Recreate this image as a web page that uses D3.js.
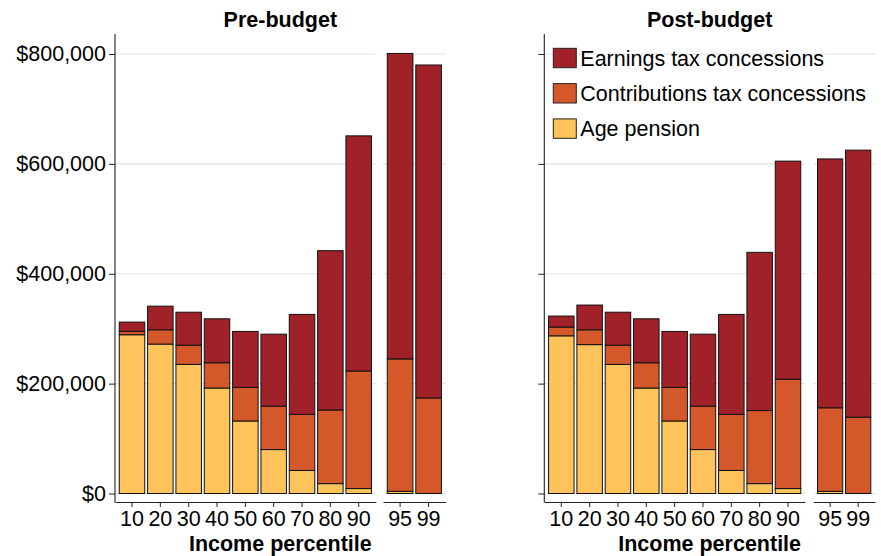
<!DOCTYPE html>
<html>
<head>
<meta charset="utf-8">
<script src="https://cdn.jsdelivr.net/npm/d3@7"></script>
<style>
  body { margin: 0; background: #fff; }
  text { font-family: "Liberation Sans", Arial, sans-serif; fill: #000; }
</style>
</head>
<body>
<div id="chart"></div>
<script>
// values in thousands of dollars
var categories = ["10", "20", "30", "40", "50", "60", "70", "80", "90", "95", "99"];
var lowGroup = ["10", "20", "30", "40", "50", "60", "70", "80", "90"];
var highGroup = ["95", "99"];

var preAge      = [289, 272, 235, 192, 132, 80, 42, 18, 9, 4, 0];
var preContrib  = [6, 26, 35, 46, 61, 79, 102, 134, 214, 241, 174];
var preEarn     = [17, 43, 60, 80, 102, 131, 182, 290, 428, 556, 606];

var postAge     = [287, 271, 235, 192, 132, 80, 42, 18, 9, 4, 0];
var postContrib = [16, 27, 35, 46, 61, 79, 102, 133, 199, 152, 139];
var postEarn    = [20, 45, 60, 80, 102, 131, 182, 288, 397, 453, 486];

var seriesKeys = ["age", "contrib", "earn"];
var seriesLabels = {earn: "Earnings tax concessions", contrib: "Contributions tax concessions", age: "Age pension"};
var colors = {earn: "#A02128", contrib: "#D4582A", age: "#FFC35B"};
var yTicks = [0, 200000, 400000, 600000, 800000];

function buildRows(age, contrib, earn) {
    return categories.map(function(c, i) {
        return {cat: c, age: age[i] * 1000, contrib: contrib[i] * 1000, earn: earn[i] * 1000};
    });
}

var facets = [
    {title: "Pre-budget", rows: buildRows(preAge, preContrib, preEarn), left: 115, split: [375.7, 383], right: 445.7, labels: true},
    {title: "Post-budget", rows: buildRows(postAge, postContrib, postEarn), left: 544.3, split: [805, 813.3], right: 875, labels: false}
];

var width = 881, height = 556;
var panelTop = 34, panelBottom = 502;
var fontSize = 21.5;

var svg = d3.select("#chart").append("svg")
    .attr("width", width)
    .attr("height", height);

var y = d3.scaleLinear().domain([0, 800000]).range([493.5, 54]);
var stack = d3.stack().keys(seriesKeys);

facets.forEach(function(f) {
    var g = svg.append("g");
    var layers = stack(f.rows);

    var subs = [
        {cats: lowGroup, x: d3.scaleBand().domain(lowGroup).range([f.left, f.split[0]]).paddingInner(0.1).paddingOuter(0.15)},
        {cats: highGroup, x: d3.scaleBand().domain(highGroup).range([f.split[1], f.right]).paddingInner(0.1).paddingOuter(0.15)}
    ];

    subs.forEach(function(s) {
        var r = s.x.range();
        // grid
        g.append("g").selectAll("line")
            .data(yTicks)
            .join("line")
            .attr("x1", r[0]).attr("x2", r[1])
            .attr("y1", d => y(d)).attr("y2", d => y(d))
            .attr("stroke", "#e2e2e2")
            .attr("stroke-width", 1.1);

        // bars
        layers.forEach(function(layer) {
            g.append("g").selectAll("rect")
                .data(layer.filter(d => s.cats.indexOf(d.data.cat) >= 0 && d[1] > d[0]))
                .join("rect")
                .attr("x", d => s.x(d.data.cat))
                .attr("width", s.x.bandwidth())
                .attr("y", d => y(d[1]))
                .attr("height", d => y(d[0]) - y(d[1]))
                .attr("fill", colors[layer.key])
                .attr("stroke", "#111")
                .attr("stroke-width", 1);
        });

        // x axis
        var ax = g.append("g")
            .attr("transform", "translate(0," + panelBottom + ")")
            .call(d3.axisBottom(s.x).tickSize(5).tickSizeOuter(0).tickPadding(4));
        ax.select(".domain").attr("stroke", "#222").attr("stroke-width", 1.1);
        ax.selectAll(".tick line").attr("stroke", "#222");
        ax.selectAll(".tick text")
            .attr("font-size", fontSize)
            .attr("font-family", "Liberation Sans, Arial, sans-serif")
            .attr("fill", "#000");
    });

    // y axis
    var yAxis = d3.axisLeft(y).tickValues(yTicks).tickSize(6).tickPadding(3)
        .tickFormat(f.labels ? (d => "$" + d3.format(",")(d)) : "");
    var ay = g.append("g")
        .attr("transform", "translate(" + f.left + ",0)")
        .call(yAxis);
    ay.select(".domain").remove();
    ay.selectAll(".tick line").attr("stroke", "#222");
    ay.selectAll(".tick text")
        .attr("font-size", fontSize)
        .attr("font-family", "Liberation Sans, Arial, sans-serif")
        .attr("fill", "#000");
    g.append("line")
        .attr("x1", f.left).attr("x2", f.left)
        .attr("y1", panelTop).attr("y2", panelBottom + 0.5)
        .attr("stroke", "#222")
        .attr("stroke-width", 1.1);

    var cx = (f.left + f.right) / 2;
    g.append("text")
        .attr("x", cx).attr("y", 27)
        .attr("text-anchor", "middle")
        .attr("font-weight", "bold")
        .attr("font-size", fontSize)
        .text(f.title);

    g.append("text")
        .attr("x", cx).attr("y", 550.5)
        .attr("text-anchor", "middle")
        .attr("font-weight", "bold")
        .attr("font-size", fontSize)
        .text("Income percentile");
});

// legend
var legendOrder = ["earn", "contrib", "age"];
var legend = svg.append("g").attr("transform", "translate(553.3,48.3)");
var item = legend.selectAll("g")
    .data(legendOrder)
    .join("g")
    .attr("transform", (d, i) => "translate(0," + (i * 35.3) + ")");
item.append("rect")
    .attr("width", 23).attr("height", 19.4)
    .attr("fill", d => colors[d])
    .attr("stroke", "#222")
    .attr("stroke-width", 1);
item.append("text")
    .attr("x", 27).attr("y", 17.5)
    .attr("font-size", fontSize)
    .text(d => seriesLabels[d]);
</script>
</body>
</html>
